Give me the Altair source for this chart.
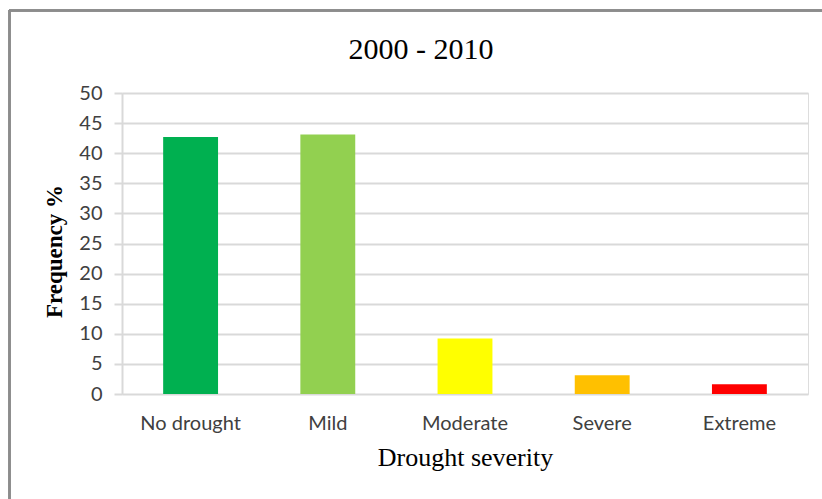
import altair as alt
import pandas as pd

# Drought severity classes and their frequency (%) over 2000-2010
categories = ["No drought", "Mild", "Moderate", "Severe", "Extreme"]
frequency = [42.7, 43.1, 9.2, 3.1, 1.6]
colors = ["#00b050", "#92d050", "#ffff00", "#ffc000", "#ff0000"]
y_ticks = [0, 5, 10, 15, 20, 25, 30, 35, 40, 45, 50]

df = pd.DataFrame({"severity": categories, "freq": frequency, "color": colors})

W, H = 686, 301
PAD = {"left": 122, "top": 93, "right": 14, "bottom": 105}

bars = alt.Chart(df).mark_bar().encode(
    x=alt.X(
        "severity:N",
        sort=categories,
        scale=alt.Scale(paddingInner=0.6, paddingOuter=0.3),
        axis=alt.Axis(
            title="Drought severity",
            labelAngle=0,
            labelFont="Lato",
            labelFontSize=20,
            labelColor="#404040",
            labelPadding=19,
            ticks=False,
            domain=False,
            titleFont="Liberation Serif",
            titleFontSize=26,
            titleFontWeight="normal",
            titleColor="#000000",
            titlePadding=11,
        ),
    ),
    y=alt.Y(
        "freq:Q",
        scale=alt.Scale(domain=[0, 50], nice=False),
        axis=alt.Axis(
            title="Frequency %",
            values=y_ticks,
            labelFont="Lato",
            labelFontSize=20,
            labelColor="#404040",
            labelPadding=12,
            tickColor="#d9d9d9",
            tickSize=8,
            tickWidth=2,
            domainColor="#d9d9d9",
            domainWidth=2,
            gridColor="#d9d9d9",
            gridWidth=2,
            titleFont="Liberation Serif",
            titleFontSize=23,
            titleFontWeight="bold",
            titleColor="#000000",
            titlePadding=12,
            titleY=158,
        ),
    ),
    color=alt.Color("color:N", scale=None, legend=None),
)

# Frame lines along the top and left edges of the figure
frame_top = alt.Chart(df).mark_rule(color="#8c8c8c", strokeWidth=2).encode(
    x=alt.value(9 - PAD["left"]), x2=alt.value(822 - PAD["left"]),
    y=alt.value(10.5 - PAD["top"]),
)
frame_left = alt.Chart(df).mark_rule(color="#8c8c8c", strokeWidth=2).encode(
    x=alt.value(9.5 - PAD["left"]),
    y=alt.value(10 - PAD["top"]), y2=alt.value(499 - PAD["top"]),
)

chart = alt.layer(bars, frame_top, frame_left).properties(
    width=W,
    height=H,
    title=alt.TitleParams(
        "2000 - 2010",
        font="Liberation Serif",
        fontSize=30,
        fontWeight="normal",
        color="#000000",
        anchor="middle",
        baseline="alphabetic",
        dx=-44,
        dy=80,
        offset=0,
    ),
    autosize=alt.AutoSizeParams(type="none"),
    padding=PAD,
).configure_view(stroke=None).configure(background="white")

chart.save("out.html", embed_options={"renderer": "svg", "actions": False})
